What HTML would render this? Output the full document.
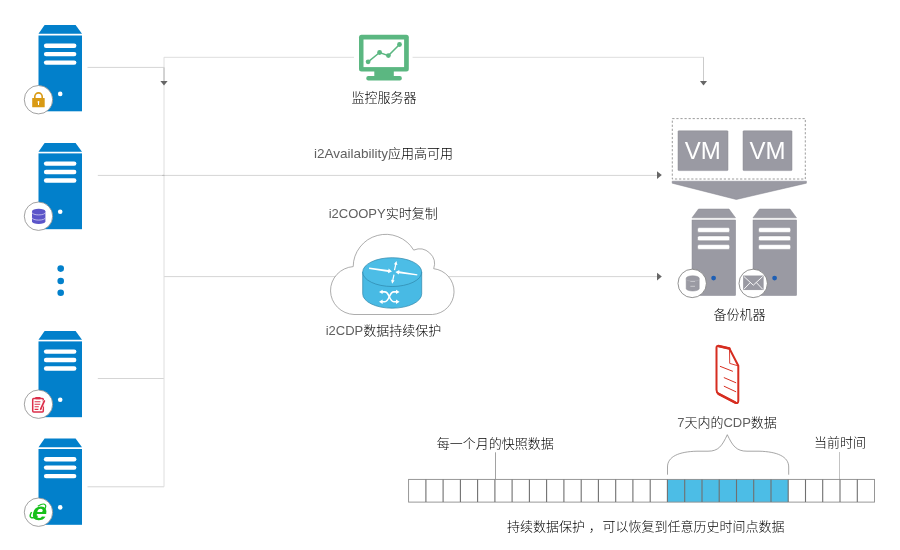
<!DOCTYPE html>
<html lang="zh-CN">
<head>
<meta charset="utf-8">
<title>i2 架构图</title>
<style>
html,body{margin:0;padding:0;background:#fff;}
body{width:900px;height:550px;overflow:hidden;position:relative;}
svg{position:absolute;left:0;top:0;display:block;will-change:transform;}
text{font-family:"Liberation Sans","Noto Sans CJK SC",sans-serif;font-size:13px;font-weight:300;fill:#000;}
.l{fill:#606060;font-size:13.5px;}
.u{fill:#606060;font-size:13px;}
.vm{font-size:24px;fill:#fff;font-weight:400;}
</style>
</head>
<body>
<svg width="900" height="550" viewBox="0 0 900 550">
<defs>
  <g id="srv">
    <path d="M6.3 0H37.3L43.7 8.8H0.2Z" fill="#0280cb"/>
    <rect x="0.2" y="10.5" width="43.5" height="75.8" fill="#0280cb"/>
    <rect x="5.6" y="18.5" width="32.5" height="4.4" rx="2.2" fill="#fff"/>
    <rect x="5.6" y="26.9" width="32.5" height="4.4" rx="2.2" fill="#fff"/>
    <rect x="5.6" y="35.4" width="32.5" height="4.4" rx="2.2" fill="#fff"/>
    <circle cx="21.9" cy="68.9" r="2.3" fill="#fff"/>
  </g>
  <circle id="bdg" cx="0" cy="0" r="14.2" fill="#fff" stroke="#8a8a8a" stroke-width="0.8"/>
  <g id="gsrv">
    <path d="M6.5 0H37L43.5 8.8H0Z" fill="#9a9aa3" stroke="#8a8a93" stroke-width="0.5"/>
    <rect x="0" y="11" width="43.6" height="75.5" fill="#9a9aa3" stroke="#8a8a93" stroke-width="0.5"/>
    <g fill="#fff" stroke="#8a8a93" stroke-width="0.5">
      <rect x="5.5" y="18.6" width="32.2" height="4.8" rx="1.5"/>
      <rect x="5.5" y="26.9" width="32.2" height="4.8" rx="1.5"/>
      <rect x="5.5" y="35.6" width="32.2" height="4.8" rx="1.5"/>
    </g>
    <circle cx="21.6" cy="69.1" r="2.4" fill="#1e5fb4"/>
    <circle cx="0.2" cy="74.4" r="14.2" fill="#fff" stroke="#777" stroke-width="0.8"/>
  </g>
</defs>

<!-- connector lines -->
<g fill="none" stroke="#d5d5d5" stroke-width="1">
  <path d="M87.5 67.4H164"/>
  <path d="M97.8 175.4H657"/>
  <path d="M164 276.6H657"/>
  <path d="M97.8 378.5H164"/>
  <path d="M87.5 486.8H164"/>
</g>
<g fill="none" stroke="#dedede" stroke-width="1">
  <path d="M164 57.2V486.8"/>
  <path d="M164 57.3H704"/>
</g>
<path d="M164 67.4V81" stroke="#b8b8b8" stroke-width="1" fill="none"/>
<path d="M703.5 57.3V81" stroke="#cbcbcb" stroke-width="1" fill="none"/>
<ellipse cx="163.4" cy="175.4" rx="1.4" ry="0.7" fill="#bdbdbd"/>
<g fill="#666">
  <path d="M160.4 81.1H167.6L164 85.6Z"/>
  <path d="M700 81H707L703.5 85.6Z"/>
  <path d="M657 171.3V178.9L661.8 175.1Z"/>
  <path d="M657 272.8V280.4L661.8 276.6Z"/>
</g>

<!-- left servers -->
<use href="#srv" x="38.3" y="25"/>
<use href="#srv" x="38.3" y="142.9"/>
<use href="#srv" x="38.3" y="330.9"/>
<use href="#srv" x="38.3" y="438.5"/>
<use href="#bdg" x="38.5" y="99.7"/>
<use href="#bdg" x="38.5" y="216.2"/>
<use href="#bdg" x="38.5" y="404.2"/>
<use href="#bdg" x="38.5" y="512.2"/>
<!-- lock badge -->
<g>
  <rect x="32.2" y="98.1" width="12.5" height="9.1" rx="0.5" fill="#d99a14"/>
  <path d="M34.8 98.6V96.6A3.7 3.7 0 0 1 42.2 96.6V98.6" fill="none" stroke="#d99a14" stroke-width="1.6"/>
  <circle cx="38.5" cy="102" r="0.9" fill="#fff"/>
  <rect x="38" y="102" width="1" height="3" fill="#fff"/>
</g>
<!-- database badge -->
<g fill="#5b55c9">
  <path d="M32 211.4V221.4A6.7 2.7 0 0 0 45.4 221.4V211.4Z"/>
  <ellipse cx="38.7" cy="211.4" rx="6.7" ry="2.7"/>
  <path d="M32 212.5A6.7 2.4 0 0 0 45.4 212.5M32 217.7A6.7 2.4 0 0 0 45.4 217.7" fill="none" stroke="#d0cdf0" stroke-width="0.8"/>
</g>
<!-- clipboard badge -->
<g>
  <rect x="32.7" y="398.4" width="10.6" height="13.5" rx="1" fill="#fff" stroke="#dc2e4a" stroke-width="1.5"/>
  <rect x="35.3" y="397" width="5.3" height="2.2" rx="0.6" fill="#dc2e4a"/>
  <path d="M34.6 401.7H40.4M34.6 404.2H40.2M34.6 406.8H38.8M34.6 409.4H38.4" stroke="#dc2e4a" stroke-width="1.1" fill="none"/>
  <path d="M44.4 400.6L40.4 409.6" stroke="#fff" stroke-width="3" fill="none"/>
  <path d="M44.4 400.9L40.9 408.6" stroke="#dc2e4a" stroke-width="1.7" stroke-linecap="round" fill="none"/>
  <path d="M40 408.2L41.8 409L39.9 410.4Z" fill="#dc2e4a"/>
</g>
<!-- browser badge -->
<g>
  <g transform="translate(37.9 511) rotate(-40)" fill="none" stroke="#16c01a">
    <path d="M3 -3.7A9.6 3.9 0 0 1 3 3.7" stroke-width="1.2"/>
    <path d="M-3.5 3.6A9.6 3.9 0 0 1 -5.5 -3.2" stroke-width="1.5"/>
  </g>
  <text transform="translate(38.5 519.5) skewX(-10) scale(1.1 1)" x="0" y="0" text-anchor="middle" style="font-family:'Liberation Sans',sans-serif;font-size:25px;font-weight:700;fill:#16c01a">e</text>
</g>
<g fill="#0280cb">
  <circle cx="60.7" cy="268.6" r="3.3"/>
  <circle cx="60.7" cy="281" r="3.3"/>
  <circle cx="60.7" cy="292.8" r="3.3"/>
</g>

<!-- monitor -->
<rect x="354" y="50" width="58.6" height="14" fill="#fff"/>
<g>
  <rect x="359" y="34.7" width="49.8" height="36.7" rx="2.5" fill="#5bb781"/>
  <rect x="363.5" y="39.5" width="40.6" height="27.6" fill="#fff"/>
  <rect x="374.3" y="71" width="19.5" height="6" fill="#5bb781"/>
  <rect x="366.3" y="76" width="35.5" height="4.4" rx="2" fill="#5bb781"/>
  <path d="M368.1 61.8L379.6 52.5L388.4 55.6L399.5 44.5" fill="none" stroke="#5bb781" stroke-width="1.5"/>
  <g fill="#5bb781"><circle cx="368.1" cy="61.8" r="2.4"/><circle cx="379.6" cy="52.5" r="2.4"/><circle cx="388.4" cy="55.6" r="2.4"/><circle cx="399.5" cy="44.5" r="2.4"/></g>
</g>
<text x="384" y="102" text-anchor="middle">监控服务器</text>
<text x="383.6" y="158.2" text-anchor="middle"><tspan class="l">i2Availability</tspan>应用高可用</text>
<text x="383.2" y="217.6" text-anchor="middle"><tspan class="u">i2COOPY</tspan>实时复制</text>

<!-- cloud -->
<path d="M354 314.5A24.6 24 0 0 1 353.2 266.6A32.6 32.6 0 0 1 413.7 250.1A15 15 0 0 1 433.7 268.7A23 23 0 0 1 432.5 314.5Z" fill="#fff" stroke="#8a8a8a" stroke-width="0.7"/>
<!-- router -->
<g>
  <path d="M362.7 272.1V293.8A29.5 14.4 0 0 0 421.7 293.8V272.1Z" fill="#48bae4" stroke="#2f86aa" stroke-width="0.7"/>
  <ellipse cx="392.2" cy="272.1" rx="29.5" ry="14.4" fill="#4cbde6" stroke="#2f86aa" stroke-width="0.7"/>
  <g fill="#fff">
    <path d="M369.2 267.6L388.4 269.9L388.6 268.6L392 271.4L388 273.2L388.2 271.9L369 269Z"/>
    <path d="M417.2 275.6L399 273.3L398.8 274.6L395.4 272L399.4 270L399.2 271.3L417.4 274.2Z"/>
    <path d="M393.9 270L395.1 264.6L393.9 264.3L396.4 261L397.4 265.1L396.3 264.8L395.1 270.2Z"/>
    <path d="M394.6 274.8L393.4 280.2L394.6 280.5L392.1 283.8L391.1 279.7L392.2 280L393.4 274.6Z"/>
  </g>
  <g stroke="#fff" stroke-width="1.6" fill="none">
    <path d="M381.5 291.9H384.8C389.6 291.9 389 301.7 393.8 301.7H397"/>
    <path d="M381.5 301.7H384.8C389.6 301.7 389 291.9 393.8 291.9H397"/>
  </g>
  <g fill="#fff">
    <path d="M379 291.9L382.6 289.7V294.1Z"/>
    <path d="M379 301.7L382.6 299.5V303.9Z"/>
    <path d="M399.6 291.9L396 289.7V294.1Z"/>
    <path d="M399.6 301.7L396 299.5V303.9Z"/>
  </g>
</g>
<text x="383.5" y="334.7" text-anchor="middle"><tspan class="u">i2CDP</tspan>数据持续保护</text>

<!-- VM box -->
<rect x="672.3" y="118.6" width="133" height="60.4" fill="#fff" stroke="#8a8a8a" stroke-width="0.85" stroke-dasharray="2.2 1.87"/>
<rect x="678" y="130.8" width="50" height="39.8" rx="0.8" fill="#9a9aa3" stroke="#8a8a93" stroke-width="0.5"/>
<rect x="743" y="130.8" width="49" height="39.8" rx="0.8" fill="#9a9aa3" stroke="#8a8a93" stroke-width="0.5"/>
<text class="vm" x="702.8" y="159.4" text-anchor="middle">VM</text>
<text class="vm" x="767.4" y="159.4" text-anchor="middle">VM</text>
<path d="M672.2 181.2H806.4V183.2L736.3 199.5L672.2 183.2Z" fill="#9a9aa3" stroke="#85858e" stroke-width="0.5"/>

<!-- backup servers -->
<use href="#gsrv" x="692" y="209"/>
<use href="#gsrv" x="753" y="209"/>
<!-- gray db badge -->
<g fill="#9a9aa3" stroke="#8a8a93" stroke-width="0.5">
  <path d="M686.2 278.2V288.6A6.5 2.4 0 0 0 699.2 288.6V278.2A6.5 2.4 0 0 0 686.2 278.2Z"/>
  <path d="M690.4 281.5H695M690.4 286.3H695" fill="none" stroke="#d4d4d8" stroke-width="0.8"/>
  <path d="M686.2 279.6A6.5 1.4 0 0 0 699.2 279.6" fill="none" stroke="#b4b4bb" stroke-width="0.5"/>
</g>
<!-- envelope badge -->
<g>
  <rect x="743.4" y="275.9" width="19.8" height="13.9" fill="#9a9aa3" stroke="#8a8a93" stroke-width="0.5"/>
  <path d="M743.8 276.4L753.3 285.2L762.8 276.4M743.8 289.4L750.4 282.4M762.8 289.4L756.2 282.4" fill="none" stroke="#fff" stroke-width="0.9"/>
</g>
<text x="739.6" y="318.8" text-anchor="middle">备份机器</text>

<!-- document icon -->
<g fill="none" stroke="#d62d20" stroke-linejoin="round" stroke-linecap="round">
  <path d="M718.4 346L729.4 348.5L738.3 365.8V400.8Q738.3 404 735.4 402.6L718.6 393.8Q716.5 392.6 716.5 389.8V347.8Q716.5 345.6 718.4 346Z" stroke-width="2"/>
  <path d="M718.4 346L729.4 348.5" stroke-width="2.4"/>
  <path d="M718.6 393.8L735.4 402.6" stroke-width="2.5"/>
  <path d="M729.5 348.8L729.7 363.4L738 365.8" stroke-width="0.9"/>
  <path d="M720.3 366.4L732.5 371.2M724.2 377.7L735.8 382.7M724.2 386.3L735.8 391.7" stroke-width="1"/>
</g>
<text x="727" y="426.6" text-anchor="middle"><tspan class="u">7</tspan>天内的<tspan class="u">CDP</tspan>数据</text>
<text x="495.2" y="448.4" text-anchor="middle">每一个月的快照数据</text>
<text x="839.9" y="446.7" text-anchor="middle">当前时间</text>
<path d="M495.5 452.3V479" stroke="#8a8a8a" stroke-width="0.8" fill="none"/>
<path d="M839.5 452V479" stroke="#bcbcbc" stroke-width="0.9" fill="none"/>
<path d="M667.5 474.7V467C667.5 456.5 679 451.6 697 451.2H708C718.5 451.2 722 446 727.3 434.7C732.6 446 736.5 451.2 747 451.2H759C777 451.6 788.7 456.5 788.7 467V474.7" fill="none" stroke="#808080" stroke-width="0.7"/>

<!-- timeline -->
<rect x="667.4" y="479.4" width="120.8" height="22.7" fill="#4cbde6"/>
<rect x="408.6" y="479.4" width="465.9" height="22.7" fill="none" stroke="#8c8c8c" stroke-width="0.9"/>
<path d="M425.9 479.4V502.1M443.1 479.4V502.1M460.4 479.4V502.1M477.6 479.4V502.1M494.9 479.4V502.1M512.1 479.4V502.1M529.4 479.4V502.1M546.6 479.4V502.1M563.9 479.4V502.1M581.2 479.4V502.1M598.4 479.4V502.1M615.7 479.4V502.1M632.9 479.4V502.1M650.2 479.4V502.1M667.4 479.4V502.1M684.7 479.4V502.1M702.0 479.4V502.1M719.2 479.4V502.1M736.5 479.4V502.1M753.7 479.4V502.1M771.0 479.4V502.1M788.2 479.4V502.1M805.5 479.4V502.1M822.7 479.4V502.1M840.0 479.4V502.1M857.3 479.4V502.1" fill="none" stroke="#707070" stroke-width="1.1"/>
<text x="507" y="531">持续数据保护<tspan dx="3.8">，</tspan><tspan dx="-3"> 可以恢复到任意历史时间点数据</tspan></text>
</svg>
</body>
</html>
